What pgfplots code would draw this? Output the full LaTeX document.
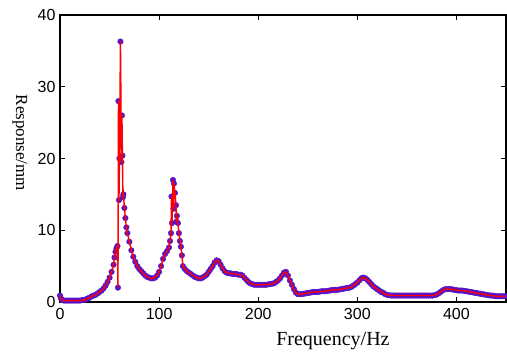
\documentclass[border=0pt]{standalone}
\usepackage{fontspec}
\setmainfont{Liberation Serif}
\newfontfamily\tickfont{Liberation Sans}
\usepackage{pgfplots}
\pgfplotsset{compat=1.18}
\definecolor{mkblue}{RGB}{88,20,200}
\begin{document}
\begin{tikzpicture}
\begin{axis}[
  at={(0,0)}, anchor=south west,
  set layers,
  scale only axis, width=446pt, height=287pt,
  xmin=0, xmax=450, ymin=0, ymax=40,
  xtick={0,100,200,300,400}, ytick={0,10,20,30,40},
  tick align=inside, major tick length=5pt,
  xtick pos=both, ytick pos=both,
  axis line style={line width=1.1pt},
  tick style={line width=1pt, black},
  /pgf/number format/assume math mode=true,
  ticklabel style={font=\tickfont\fontsize{16}{16}\selectfont},
  xticklabel style={yshift=-3pt},
  yticklabel style={xshift=-1pt},
  xlabel={Frequency/Hz},
  ylabel={Response/mm},
  xlabel style={font=\fontsize{20}{20}\selectfont, at={(axis description cs:0.612,-0.135)}, anchor=center},
  ylabel style={font=\fontsize{17}{17}\selectfont, at={(axis description cs:-0.09,0.554)}, anchor=center, rotate=180},
  clip mode=global,
]
\pgfplotstableread{
x y
0 0.9
1 0.5
2 0.3
4 0.2
6 0.2
8 0.2
10 0.2
12 0.2
14 0.2
16 0.2
18 0.2
20 0.2
22 0.25
24 0.3
26 0.35
28 0.5
30 0.6
32 0.8
34 0.9
36 1.0
38 1.2
40 1.4
42 1.6
44 1.9
46 2.3
48 2.8
50 3.4
52 4.2
54 5.2
55 6.2
56 7.0
57 7.5
58 7.8
58.5 2.0
59 28
59.5 14.2
60 20
61 36.3
62 19.5
62.5 26
63 20.4
63.5 14.6
64 15.0
65 13.1
66 11.7
67 10.4
68 9.6
70 8.4
72 7.2
74 6.3
76 5.6
78 5.0
80 4.6
82 4.3
84 4.0
86 3.7
88 3.5
90 3.4
92 3.3
94 3.3
96 3.4
98 3.7
100 4.2
102 5.0
104 6.0
106 6.7
108 7.1
110 7.6
111 8.5
112 9.6
112.5 14.7
113 11.0
114 17.0
114.5 13.0
115 16.5
116 15.2
117 13.5
117.5 11.2
118 12.0
119 11.0
120 9.6
121 8.5
122 7.7
123 6.5
124 5.0
126 4.6
128 4.3
130 4.1
132 3.9
134 3.7
136 3.5
138 3.4
140 3.3
142 3.3
144 3.4
146 3.6
148 3.8
150 4.2
152 4.6
154 5.0
156 5.5
158 5.8
160 5.7
162 5.2
164 4.7
166 4.3
168 4.1
170 4.0
172 4.0
174 3.9
176 3.9
178 3.9
180 3.8
182 3.8
184 3.7
186 3.4
188 3.1
190 2.8
192 2.6
194 2.5
196 2.4
198 2.4
200 2.4
202 2.4
204 2.4
206 2.4
208 2.4
210 2.45
212 2.5
214 2.55
216 2.6
218 2.8
220 3.0
222 3.3
224 3.7
226 4.1
228 4.2
230 3.7
232 3.0
234 2.4
236 1.8
238 1.3
240 1.1
242 1.1
244 1.1
246 1.15
248 1.2
250 1.25
252 1.3
254 1.35
256 1.4
258 1.4
260 1.4
262 1.45
264 1.5
266 1.5
268 1.5
270 1.55
272 1.6
274 1.65
276 1.7
278 1.7
280 1.7
282 1.75
284 1.8
286 1.85
288 1.9
290 1.95
292 2.0
294 2.1
296 2.3
298 2.5
300 2.7
302 3.0
304 3.3
306 3.4
308 3.3
310 3.1
312 2.8
314 2.5
316 2.2
318 2.0
320 1.8
322 1.6
324 1.4
326 1.3
328 1.1
330 1.0
332 0.95
334 0.9
336 0.9
338 0.9
340 0.9
342 0.9
344 0.9
346 0.9
348 0.9
350 0.9
352 0.9
354 0.9
356 0.9
358 0.9
360 0.9
362 0.9
364 0.9
366 0.9
368 0.9
370 0.9
372 0.9
374 0.9
376 0.9
378 0.95
380 1.05
382 1.2
384 1.4
386 1.6
388 1.75
390 1.8
392 1.8
394 1.8
396 1.75
398 1.7
400 1.65
402 1.6
404 1.6
406 1.6
408 1.55
410 1.5
412 1.45
414 1.4
416 1.35
418 1.3
420 1.25
422 1.2
424 1.15
426 1.1
428 1.05
430 1.0
432 0.95
434 0.9
436 0.9
438 0.85
440 0.8
442 0.8
444 0.8
446 0.8
448 0.8
450 0.8
}\resp
\addplot[on layer=axis background, only marks, mark=*, mark size=2.8pt, mkblue, mark options={draw=mkblue, fill=mkblue}] table {\resp};
\addplot[on layer=axis foreground, red, line width=1.4pt, mark=none] table {\resp};
\end{axis}
\pgfresetboundingbox
\path (-60pt,-59pt) rectangle (447pt,302pt);
\end{tikzpicture}
\end{document}
